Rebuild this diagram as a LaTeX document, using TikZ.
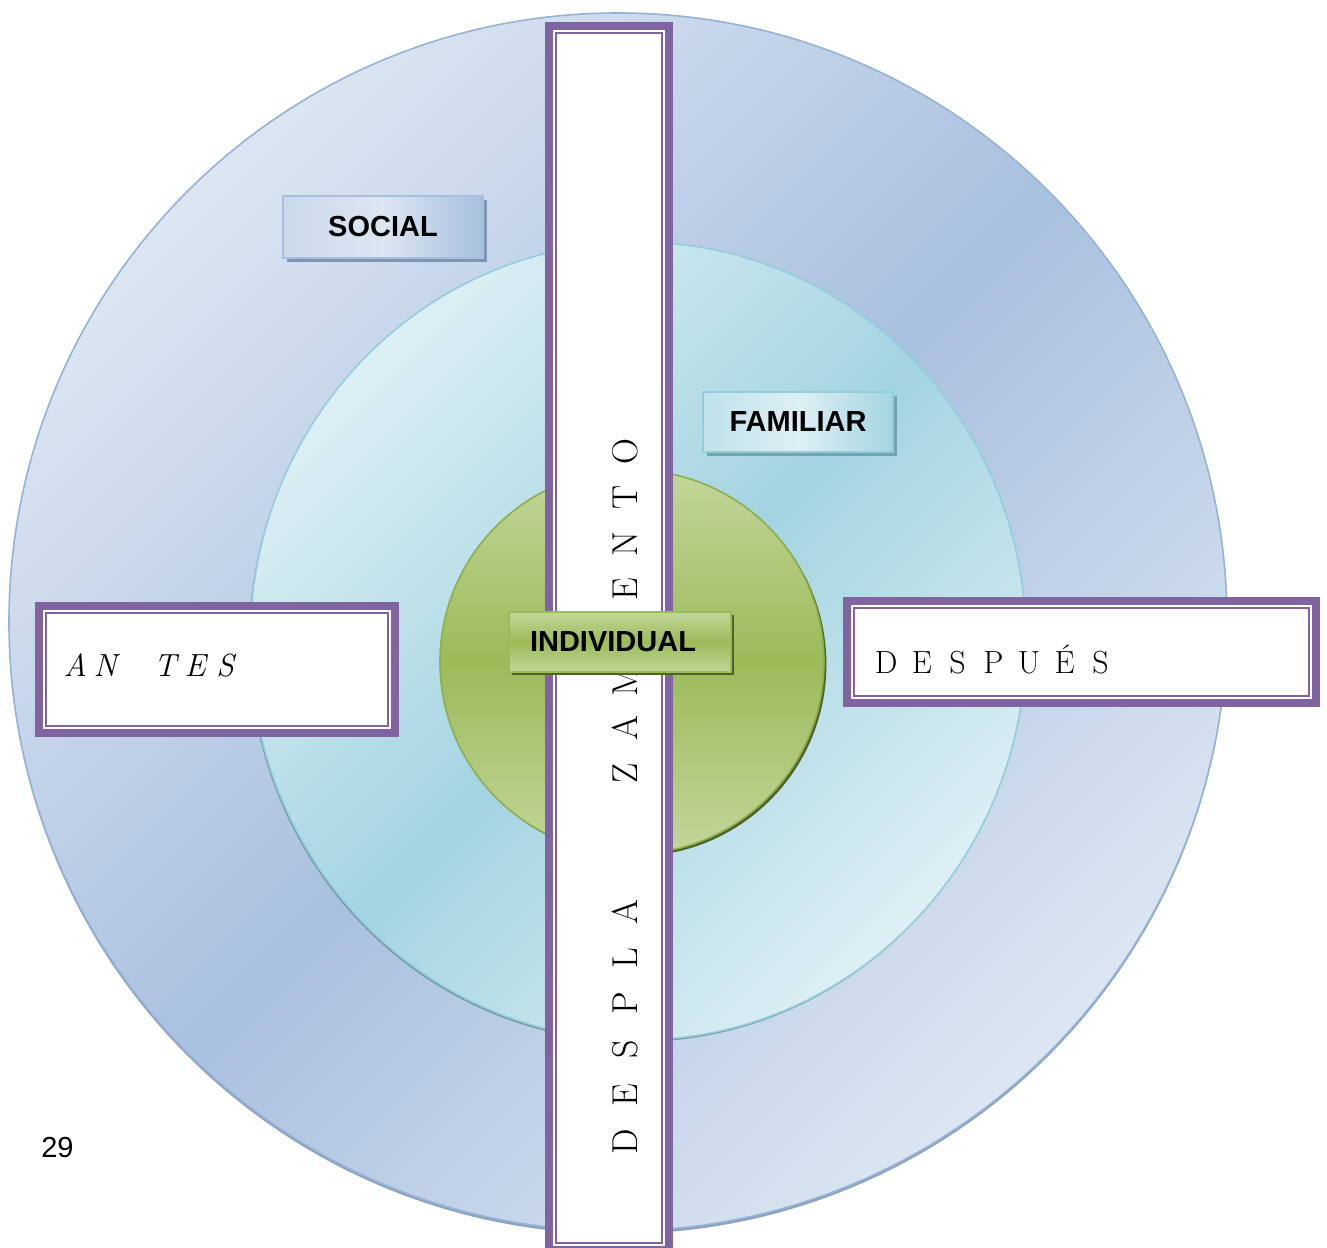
\documentclass[tikz,border=0pt]{standalone}
\usepackage{fontspec}
\newfontfamily\arialfont{Liberation Sans}
\usetikzlibrary{shadows}
\definecolor{framepurple}{HTML}{8064A2}
\definecolor{outerlight}{HTML}{DCE6F2}
\definecolor{outerdark}{HTML}{A9C0DF}
\definecolor{outeredge}{HTML}{95B3D7}
\definecolor{outershadow}{HTML}{8EA3BF}
\definecolor{midlight}{HTML}{DDEFF4}
\definecolor{middark}{HTML}{A3D4E1}
\definecolor{midedge}{HTML}{92CDDC}
\definecolor{midshadow}{HTML}{6F9AA6}
\definecolor{greenlight}{HTML}{C3D69B}
\definecolor{greendark}{HTML}{9BBB59}
\definecolor{greenedge}{HTML}{8DAE4C}
\definecolor{greenshadow}{HTML}{4F6228}
\definecolor{socialdark}{HTML}{A7BFDE}
\definecolor{socialshadow}{HTML}{7F95B1}
\definecolor{familiardark}{HTML}{A5D5E2}
\definecolor{familiarshadow}{HTML}{74A3B0}
\newcommand{\spreadout}[2]{\foreach \ltr in {#2}{\makebox[#1]{\ltr}}}
\tikzset{
  ring/.style 2 args={line width=0.8pt, top color=#1, bottom color=#1, middle color=#2, shading angle=45},
  framebox/.style={draw=framepurple, line width=3.8pt, fill=white, inner sep=0pt,
    path picture={\draw[framepurple, line width=1.1pt]
      ([shift={(3.6pt,-3.6pt)}]path picture bounding box.north west) rectangle
      ([shift={(-3.6pt,3.6pt)}]path picture bounding box.south east);}},
  spaced/.style={font=\fontsize{16}{18}\selectfont, align=left, inner ysep=0pt},
  tag/.style={font=\arialfont\bfseries\fontsize{14.5}{17}\selectfont, inner sep=0pt, line width=0.8pt},
  socialtag/.style={tag, draw=socialdark, left color=socialdark!60, right color=socialdark, middle color=outerlight,
    general shadow={fill=socialshadow, shadow xshift=2pt, shadow yshift=-2pt}},
  familiartag/.style={tag, draw=midedge, left color=familiardark!70, right color=familiardark, middle color=midlight,
    general shadow={fill=familiarshadow, shadow xshift=2pt, shadow yshift=-2pt}},
  individualtag/.style={tag, draw=greendark, top color=greenlight, bottom color=greenlight, middle color=greendark,
    general shadow={fill=greenshadow, shadow xshift=1.5pt, shadow yshift=-1.5pt}}
}
\begin{document}
\begin{tikzpicture}[x=0.5pt, y=-0.5pt]
\useasboundingbox (0,0) rectangle (1327,1247);
\fill[white] (0,0) rectangle (1327,1247);
\clip (0,0) rectangle (1327,1247);
% rings
\draw[ring={outerlight}{outerdark}, draw=outeredge, general shadow={fill=outershadow, shadow yshift=-1.5pt}] (618,622) circle (609);
\draw[ring={midlight}{middark}, draw=midedge, general shadow={fill=midshadow, shadow xshift=-0.6pt, shadow yshift=-1pt}] (638,641) ellipse [x radius=388, y radius=399];
\node[socialtag, minimum width=100pt, minimum height=31pt] (social) at (383,227) {SOCIAL};
\node[familiartag, minimum width=95pt, minimum height=30pt] (familiar) at (798,422) {FAMILIAR};
\draw[draw=greenedge, line width=0.8pt, top color=greenlight, bottom color=greenlight, middle color=greendark,
  general shadow={fill=greenshadow, shadow xshift=1.2pt, shadow yshift=-1.2pt}] (632,662) circle (192);
% vertical bar
\node[framebox, minimum width=60pt, minimum height=612pt] (bar) at (609,638) {};
\node[rotate=90, anchor=base west, inner sep=0pt, font=\fontsize{18}{20}\selectfont] (desplazamiento) at (637,1165)
  {\spreadout{23pt}{D,E,S,P,L,A,{},{},Z,A,M,I,E,N,T,O}};
% side boxes
\node[framebox, spaced, minimum width=178pt, minimum height=63.5pt, text width=156.8pt, inner xsep=10.6pt,
  text height=11pt, text depth=4.3pt] (antes) at (217,669.5) {\itshape\spreadout{15pt}{A,N,{},T,E,S}};
\node[framebox, spaced, minimum width=234.5pt, minimum height=51pt, text width=213.1pt, inner xsep=10.7pt,
  text height=21pt, text depth=0pt] (despues) at (1081.5,652) {\spreadout{17.85pt}{D,E,S,P,U,É,S}};
\node[individualtag, minimum width=111pt, minimum height=30pt] (individual) at (620,642) {INDIVIDUAL\hspace*{7pt}};
\node[font=\arialfont\fontsize{14.5}{17}\selectfont, inner sep=0pt] (pagenum) at (57.5,1148) {29};
\end{tikzpicture}
\end{document}
